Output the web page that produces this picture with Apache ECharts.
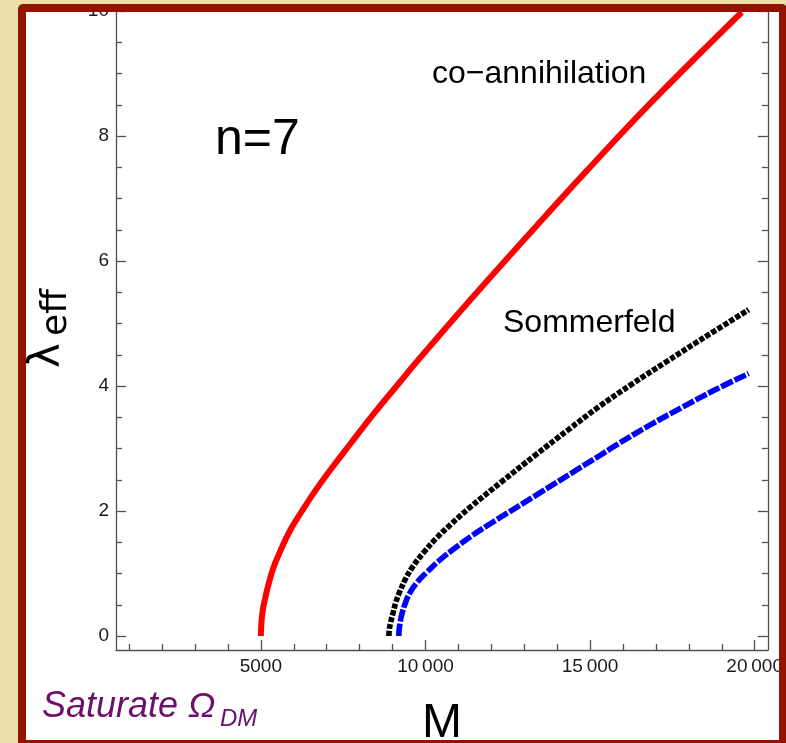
<!DOCTYPE html>
<html>
<head>
<meta charset="utf-8">
<script src="https://cdn.jsdelivr.net/npm/echarts@6/dist/echarts.min.js"></script>
<style>
  html, body { margin: 0; padding: 0; width: 786px; height: 743px; overflow: hidden; background: #e9dfa8; }
  #frame { position: absolute; left: 18px; top: 4px; width: 769px; height: 744px; box-sizing: border-box;
           border: 8px solid #931300; border-radius: 5px; background: #ffffff; overflow: hidden; }
  #chart { position: absolute; left: -26px; top: -12px; width: 786px; height: 743px; }
</style>
</head>
<body>
<div id="frame"><div id="chart"></div></div>
<script>
// ---- data ----
const redX = [5000, 5008, 5030, 5070, 5121, 5200, 5373, 5600, 5879, 6250, 6687, 7200, 7697, 8450, 9250, 9818, 11400, 13061, 14909, 16879, 19606];
const redY = [0, 0.12, 0.30, 0.45, 0.58, 0.76, 1.08, 1.37, 1.68, 2.00, 2.35, 2.72, 3.06, 3.57, 4.08, 4.44, 5.40, 6.38, 7.45, 8.55, 9.98];

const blackX = [8890, 8900, 8940, 9010, 9100, 9212, 9400, 9615, 9950, 10323, 10800, 11333, 12342, 13354, 14364, 15273, 16270, 17294, 18300, 19818];
const blackY = [0, 0.10, 0.21, 0.36, 0.54, 0.70, 0.92, 1.11, 1.34, 1.56, 1.80, 2.05, 2.48, 2.90, 3.31, 3.67, 4.03, 4.38, 4.72, 5.22];

const blueX = [9191, 9200, 9230, 9264, 9370, 9515, 9750, 10021, 10400, 10827, 11400, 12040, 13354, 14567, 15273, 15778, 16800, 17798, 18800, 19818];
const blueY = [0, 0.10, 0.21, 0.31, 0.50, 0.68, 0.86, 1.01, 1.20, 1.38, 1.60, 1.82, 2.25, 2.65, 2.88, 3.05, 3.37, 3.66, 3.94, 4.20];

const xMajorTicks = [5000, 10000, 15000, 20000];
const xTickLabels = ['5000', '10\u2009000', '15\u2009000', '20\u2009000'];
const xMinorTicks = [1000, 2000, 3000, 4000, 6000, 7000, 8000, 9000, 11000, 12000, 13000, 14000, 16000, 17000, 18000, 19000];
const yMajorTicks = [0, 2, 4, 6, 8, 10];
const yTickLabels = ['0', '2', '4', '6', '8', '10'];
const yMinorTicks = [0.5, 1, 1.5, 2.5, 3, 3.5, 4.5, 5, 5.5, 6.5, 7, 7.5, 8.5, 9, 9.5];

const xMin = 600, xMax = 20400, yMin = -0.224, yMax = 10;

const axisColor = '#505050';
const labelFont = 'Liberation Sans, Arial, sans-serif';

function pairs(xs, ys) { return xs.map((x, i) => [x, ys[i]]); }

function xAxisCfg(ticks, len, showLine, labels) {
  return {
    type: 'value', gridIndex: 0, position: 'bottom', min: xMin, max: xMax,
    splitLine: { show: false },
    axisLine: { show: showLine, onZero: false, lineStyle: { color: axisColor, width: 1.3 } },
    axisTick: { show: true, inside: true, length: len, customValues: ticks, lineStyle: { color: axisColor, width: 1.3 } },
    axisLabel: labels ? {
      show: true, customValues: ticks, margin: 7, color: '#1a1a1a', fontSize: 19, fontFamily: labelFont,
      formatter: v => { const i = xMajorTicks.indexOf(v); return i >= 0 ? xTickLabels[i] : ''; }
    } : { show: false }
  };
}
function yAxisCfg(pos, ticks, len, showLine, labels) {
  return {
    type: 'value', gridIndex: 0, position: pos, min: yMin, max: yMax,
    splitLine: { show: false },
    axisLine: { show: showLine, onZero: false, lineStyle: { color: axisColor, width: 1.3 } },
    axisTick: { show: true, inside: true, length: len, customValues: ticks, lineStyle: { color: axisColor, width: 1.3 } },
    axisLabel: labels ? {
      show: true, customValues: ticks, margin: 7, color: '#1a1a1a', fontSize: 19, fontFamily: labelFont,
      formatter: v => { const i = yMajorTicks.indexOf(v); return i >= 0 ? yTickLabels[i] : ''; }
    } : { show: false }
  };
}

const chart = echarts.init(document.getElementById('chart'), null, { renderer: 'canvas' });
chart.setOption({
  animation: false,
  backgroundColor: 'transparent',
  grid: { left: 116, right: 17, top: 11, bottom: 93, containLabel: false },
  xAxis: [
    xAxisCfg(xMajorTicks, 10, true, true),
    xAxisCfg(xMinorTicks, 6, false, false)
  ],
  yAxis: [
    yAxisCfg('left', yMajorTicks, 10, true, true),
    yAxisCfg('left', yMinorTicks, 6, false, false),
    yAxisCfg('right', yMajorTicks, 10, true, false),
    yAxisCfg('right', yMinorTicks, 6, false, false)
  ],
  series: [
    { type: 'line', name: 'co-annihilation', xAxisIndex: 0, yAxisIndex: 0, data: pairs(redX, redY),
      showSymbol: false, smooth: 0.4, lineStyle: { color: '#ff0000', width: 6, cap: 'butt' }, z: 3 },
    { type: 'line', name: 'Sommerfeld', xAxisIndex: 0, yAxisIndex: 0, data: pairs(blackX, blackY),
      showSymbol: false, smooth: 0.4, lineStyle: { color: '#000000', width: 5.6, type: [5.2, 1.8], cap: 'butt' }, z: 3 },
    { type: 'line', name: 'Sommerfeld2', xAxisIndex: 0, yAxisIndex: 0, data: pairs(blueX, blueY),
      showSymbol: false, smooth: 0.4, lineStyle: { color: '#0000ff', width: 5.6, type: [12.5, 2], cap: 'butt' }, z: 3 }
  ],
  graphic: [
    { type: 'text', x: 215, y: 140, style: { text: 'n=7', font: '50px "Liberation Sans", Arial, sans-serif', fill: '#000', align: 'left', verticalAlign: 'middle' } },
    { type: 'text', x: 432, y: 74, style: { text: 'co\u2212annihilation', font: '32px "Liberation Sans", Arial, sans-serif', fill: '#000', align: 'left', verticalAlign: 'middle' } },
    { type: 'text', x: 503, y: 323, style: { text: 'Sommerfeld', font: '32px "Liberation Sans", Arial, sans-serif', fill: '#000', align: 'left', verticalAlign: 'middle' } },
    { type: 'text', x: 422, y: 724, style: { text: 'M', font: '48px "Liberation Sans", Arial, sans-serif', fill: '#000', align: 'left', verticalAlign: 'middle' } },
    { type: 'text', x: 48, y: 368, rotation: Math.PI / 2, style: { text: '\u03bb', font: '42px "DejaVu Sans", sans-serif', fill: '#000', align: 'left', verticalAlign: 'middle' } },
    { type: 'text', x: 57, y: 336, rotation: Math.PI / 2, style: { text: 'eff', font: '36px "DejaVu Sans", sans-serif', fill: '#000', align: 'left', verticalAlign: 'middle' } },
    { type: 'text', x: 42, y: 707, style: { text: 'Saturate \u03a9', font: 'italic 36px "Liberation Sans", Arial, sans-serif', fill: '#6a0f6a', align: 'left', verticalAlign: 'middle' } },
    { type: 'text', x: 220, y: 719.5, style: { text: 'DM', font: 'italic 24px "Liberation Sans", Arial, sans-serif', fill: '#6a0f6a', align: 'left', verticalAlign: 'middle' } }
  ]
});
</script>
</body>
</html>
